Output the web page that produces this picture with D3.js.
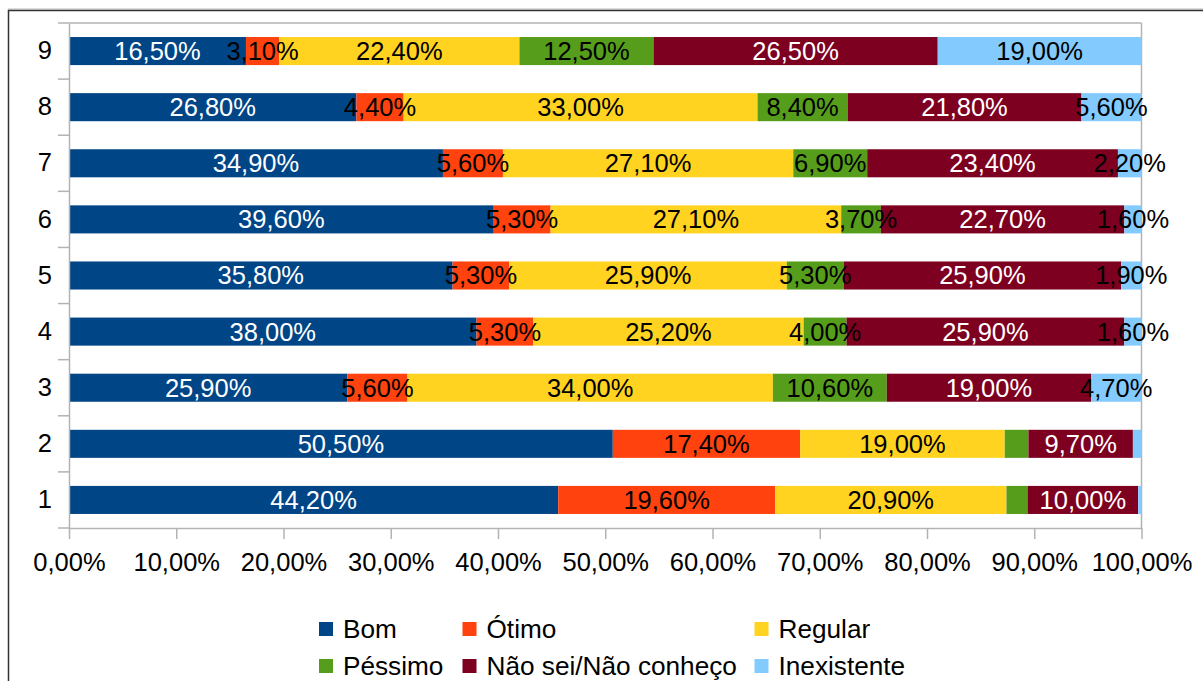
<!DOCTYPE html>
<html>
<head>
<meta charset="utf-8">
<script src="https://cdn.jsdelivr.net/npm/d3@7"></script>
<style>
  body { margin: 0; background: #fff; }
  svg { display: block; font-family: "Liberation Sans", Arial, sans-serif; }
</style>
</head>
<body>
<svg width="1203" height="681"></svg>
<script>
// categories bottom -> top
const categories = ['1', '2', '3', '4', '5', '6', '7', '8', '9']
const series = ['Bom', 'Ótimo', 'Regular', 'Péssimo', 'Não sei/Não conheço', 'Inexistente']
const colors = ['#004586', '#ff420e', '#ffd320', '#579d1c', '#7e0021', '#83caff']
const labelColors = ['#fff', '#000', '#000', '#000', '#fff', '#000']

const bom = [44.2, 50.5, 25.9, 38.0, 35.8, 39.6, 34.9, 26.8, 16.5]
const otimo = [19.6, 17.4, 5.6, 5.3, 5.3, 5.3, 5.6, 4.4, 3.1]
const regular = [20.9, 19.0, 34.0, 25.2, 25.9, 27.1, 27.1, 33.0, 22.4]
const pessimo = [1.9, 2.2, 10.6, 4.0, 5.3, 3.7, 6.9, 8.4, 12.5]
const naoSei = [10.0, 9.7, 19.0, 25.9, 25.9, 22.7, 23.4, 21.8, 26.5]
const inexistente = [0.3, 0.8, 4.7, 1.6, 1.9, 1.6, 2.2, 5.6, 19.0]

// segments that carry no data label in the original
const unlabeled = [['1', 'Péssimo'], ['1', 'Inexistente'], ['2', 'Péssimo'], ['2', 'Inexistente']]

const xTicks = [0, 0.1, 0.2, 0.3, 0.4, 0.5, 0.6, 0.7, 0.8, 0.9, 1]

const columns = [bom, otimo, regular, pessimo, naoSei, inexistente]
const rows = categories.map((c, i) => {
  const r = { cat: c }
  series.forEach((s, j) => { r[s] = columns[j][i] })
  return r
})

const fmt = (v) => d3.format('.2f')(v).replace('.', ',') + '%'
const fontSize = 25.5

const svg = d3.select('svg')

// outer frame
svg.append('line')
  .attr('x1', 8).attr('x2', 1203).attr('y1', 9).attr('y2', 9)
  .attr('stroke', '#bbb').attr('stroke-width', 1)
svg.append('rect')
  .attr('x', 8.5).attr('y', 10.5).attr('width', 1200).attr('height', 700)
  .attr('fill', 'none').attr('stroke', '#333').attr('stroke-width', 1.5)

const margin = { top: 23, left: 69, right: 1141.5, bottom: 528 }

const xScale = d3.scaleLinear().domain([0, 1]).range([margin.left, margin.right])
const yScale = d3.scaleBand()
  .domain(categories.slice().reverse())
  .range([margin.top, margin.bottom])
  .paddingInner(0.5)
  .paddingOuter(0.25)

const stack = d3.stack().keys(series).offset(d3.stackOffsetExpand)
const stacked = stack(rows)

const gridColor = '#b3b3b3'

// plot border top and right
svg.append('line')
  .attr('x1', margin.left).attr('x2', margin.right)
  .attr('y1', margin.top).attr('y2', margin.top)
  .attr('stroke', gridColor).attr('stroke-width', 1.5)
svg.append('line')
  .attr('x1', margin.right).attr('x2', margin.right)
  .attr('y1', margin.top).attr('y2', margin.bottom)
  .attr('stroke', gridColor).attr('stroke-width', 1.5)

// bars
const layer = svg.selectAll('g.layer').data(stacked).enter()
  .append('g').attr('class', 'layer')
  .attr('fill', (d, i) => colors[i])

layer.selectAll('rect').data(d => d).enter()
  .append('rect')
  .attr('x', d => xScale(d[0]))
  .attr('width', d => xScale(d[1]) - xScale(d[0]))
  .attr('y', d => yScale(d.data.cat))
  .attr('height', yScale.bandwidth())

// data labels
const isHidden = (cat, key) => unlabeled.some(u => u[0] === cat && u[1] === key)
stacked.forEach((s, i) => {
  svg.append('g').selectAll('text')
    .data(s.filter(d => !isHidden(d.data.cat, s.key)))
    .enter().append('text')
    .attr('x', d => (xScale(d[0]) + xScale(d[1])) / 2)
    .attr('y', d => yScale(d.data.cat) + yScale.bandwidth() / 2)
    .attr('dy', '0.35em')
    .attr('text-anchor', 'middle')
    .attr('font-size', fontSize)
    .attr('fill', labelColors[i])
    .text(d => fmt(d.data[s.key]))
})

// x axis
const xAxis = d3.axisBottom(xScale)
  .tickValues(xTicks)
  .tickFormat(d => fmt(d * 100))
  .tickSize(11)
  .tickSizeOuter(0)
  .tickPadding(14)

const gx = svg.append('g')
  .attr('transform', `translate(0,${margin.bottom})`)
  .call(xAxis)
gx.select('.domain').attr('stroke', gridColor).attr('stroke-width', 1.5)
gx.selectAll('.tick line').attr('stroke', gridColor).attr('stroke-width', 1.5)
gx.selectAll('.tick text')
  .attr('font-size', fontSize).attr('font-family', null).attr('fill', '#000')

// y axis (labels centred on bands, ticks on band boundaries)
const yAxis = d3.axisLeft(yScale).tickSize(0).tickPadding(17)
const gy = svg.append('g')
  .attr('transform', `translate(${margin.left},0)`)
  .call(yAxis)
gy.select('.domain').attr('stroke', gridColor).attr('stroke-width', 1.5)
gy.selectAll('.tick text')
  .attr('font-size', fontSize).attr('font-family', null).attr('fill', '#000')

const step = yScale.step()
const bounds = yScale.domain().map(c => yScale(c) - step * 0.25).concat([margin.bottom])
gy.selectAll('line.bound').data(bounds).enter()
  .append('line').attr('class', 'bound')
  .attr('x1', -11).attr('x2', 0)
  .attr('y1', d => d).attr('y2', d => d)
  .attr('stroke', gridColor).attr('stroke-width', 1.5)

// legend: three columns, two rows
const legendCols = [319, 462.5, 754.5]
const legendRows = [622, 659]
const legend = svg.append('g').selectAll('g').data(series).enter()
  .append('g')
  .attr('transform', (d, i) => `translate(${legendCols[i % 3]},${legendRows[Math.floor(i / 3)]})`)

legend.append('rect')
  .attr('width', 14).attr('height', 14)
  .attr('fill', (d, i) => colors[i])

legend.append('text')
  .attr('x', 24).attr('y', 15.5)
  .attr('font-size', 26.2)
  .attr('fill', '#000')
  .text(d => d)
</script>
</body>
</html>
